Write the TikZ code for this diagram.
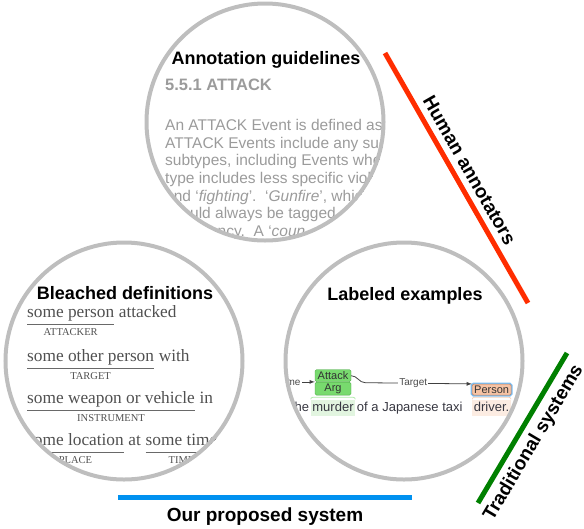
\documentclass[tikz,border=0pt]{standalone}
\usepackage{fontspec}
\setmainfont{Liberation Serif}
\setsansfont{Liberation Sans}
\usetikzlibrary{positioning}

\definecolor{lensgray}{RGB}{190,190,190}
\definecolor{guidegray}{RGB}{155,155,155}
\definecolor{defgray}{RGB}{80,80,80}
\definecolor{rulegray}{RGB}{105,105,105}
\definecolor{wordgray}{RGB}{55,55,65}
\definecolor{humanred}{RGB}{255,45,0}
\definecolor{tradgreen}{RGB}{0,128,0}
\definecolor{oursblue}{RGB}{0,145,240}
\definecolor{argfill}{RGB}{120,218,110}
\definecolor{argdraw}{RGB}{75,165,70}
\definecolor{arghl}{RGB}{226,245,224}
\definecolor{personfill}{RGB}{245,195,165}
\definecolor{persondraw}{RGB}{190,130,100}
\definecolor{personhl}{RGB}{252,236,226}
\definecolor{glowblue}{RGB}{120,190,245}

\tikzset{
        lens/.style={circle, draw=lensgray, line width=4pt, minimum size=237pt, inner sep=0pt},
        heading/.style={font=\sffamily\bfseries\fontsize{18}{20}\selectfont, inner sep=0pt, anchor=base},
        track/.style={line width=5pt},
        tracklabel/.style={font=\sffamily\bfseries\fontsize{19}{21}\selectfont, sloped, inner sep=0pt},
        guidetext/.style={font=\sffamily\fontsize{15.5}{17.7}\selectfont, text=guidegray, align=left, inner sep=0pt},
        phrase/.style={font=\fontsize{17.3}{20}\selectfont, text=defgray, inner sep=0pt, anchor=base west},
        slot/.style={phrase, text depth=4pt, inner ysep=3pt},
        rule/.style={draw=rulegray, line width=1.3pt},
        rolename/.style={font=\fontsize{10.5}{12}\selectfont, text=defgray, inner sep=0pt},
        word/.style={font=\sffamily\fontsize{13}{15}\selectfont, text=wordgray, inner xsep=1.5pt, inner ysep=2pt,
                text height=9.5pt, text depth=3pt},
        span/.style={draw, rounded corners=1.5pt, font=\sffamily\fontsize{11}{12}\selectfont, text=black!80,
                inner sep=0pt, minimum width=36pt},
        argspan/.style={span, fill=argfill, draw=argdraw},
        personspan/.style={span, fill=personfill, draw=persondraw, minimum width=39pt, minimum height=11pt,
                preaction={draw=glowblue, line width=3pt}},
        link/.style={-latex, draw=black!75, line width=0.8pt},
        arclabel/.style={font=\sffamily\fontsize{10}{11}\selectfont, text=black!70, fill=white, inner sep=1pt},
        brace/.style={line width=0.7pt, rounded corners=2pt},
}

\begin{document}
\begin{tikzpicture}[x=1pt, y=-1pt]
        \useasboundingbox (0,0) rectangle (584,528);
        %
        % annotation guidelines
        \begin{scope}
        \clip (265,122) circle [radius=120pt];
        \node[heading] (guide-title) at (266,64) {Annotation guidelines};
        \node[font=\sffamily\bfseries\fontsize{16.5}{18}\selectfont, text=guidegray, inner sep=0pt, anchor=base west]
                (guide-sec) at (165,90) {5.5.1 ATTACK};
        \node[guidetext, anchor=north west] (guide-body) at (165,119) {%
                An ATTACK Event is defined as\\
                ATTACK Events include any such\\
                subtypes, including Events where\\
                type includes less specific violence\\
                and `\textit{fighting}'.\ \ `\textit{Gunfire}', which\\
                should always be tagged\\
                emergency.\ \ A `\textit{coun}};
        \end{scope}
        %
        % bleached definitions
        \begin{scope}
        \clip (124,361) circle [radius=120pt];
        \node[heading] (bleach-title) at (125,299) {Bleached definitions};
        \node[slot] (attacker) at (27,317) {some person};
        \node[phrase] (attacked) at (attacker.base east) {\ attacked};
        \node[slot] (target) at (27,361) {some other person};
        \node[phrase] (with) at (target.base east) {\ with};
        \node[slot] (instrument) at (27,403) {some weapon or vehicle};
        \node[phrase] (in) at (instrument.base east) {\ in};
        \node[slot] (place) at (27,445) {some location};
        \node[phrase] (at) at (place.base east) {\ at\ \null};
        \node[slot] (time) at (at.base east) {some time};
        %
        \foreach \s in {attacker, target, instrument, place, time}
                \draw[rule] (\s.south west) -- (\s.south east);
        \node[rolename, below=4pt of attacker] (attacker-role) {ATTACKER};
        \node[rolename, below=4pt of target] (target-role) {TARGET};
        \node[rolename, below=4pt of instrument] (instrument-role) {INSTRUMENT};
        \node[rolename, below=4pt of place] (place-role) {PLACE};
        \node[rolename, below=4pt of time] (time-role) {TIME};
        \end{scope}
        %
        % labeled examples
        \begin{scope}
        \clip (404,361) circle [radius=120pt];
        \node[heading] (label-title) at (405,300) {Labeled examples};
        \node[word, fill=arghl, anchor=base] (murder) at (333,411) {murder};
        \node[word, anchor=base east] (the) at (murder.base west) {the};
        \node[word, anchor=base west] (taxi) at (murder.base east) {of a Japanese taxi};
        \node[word, fill=personhl, anchor=base west, xshift=8pt] (driver) at (taxi.base east) {driver.};
        \node[argspan, minimum height=13pt, above=4pt of murder] (arg) {Arg};
        \node[argspan, minimum height=12pt, above=0pt of arg] (attack) {Attack};
        \node[personspan, above=4pt of driver] (person) {Person};
        %
        \draw[brace, draw=argfill!60] (murder.north west) |- ([yshift=2pt]murder.north) -| (murder.north east);
        \draw[brace, draw=personfill!80] (driver.north west) |- ([yshift=2pt]driver.north) -| (driver.north east);
        \coordinate (time-from) at ([xshift=-60pt]arg.north west);
        \draw[link] (time-from) -- node[arclabel, pos=0.58] (time-arc) {Time} (arg.north west);
        \draw[link] (attack.east) to[out=0, in=180] ++(14,7) -- node[arclabel, pos=0.45] (target-arc) {Target} (person.north west);
        \end{scope}
        %
        \node[lens] (guide) at (265,122) {};
        \node[lens] (bleach) at (124,361) {};
        \node[lens] (label) at (404,361) {};
        %
        \coordinate (human-a) at (385,53);
        \coordinate (human-b) at (528,303);
        \coordinate (trad-a) at (478,503);
        \coordinate (trad-b) at (567,353);
        \coordinate (ours-a) at (118,497);
        \coordinate (ours-b) at (412,497);
        \draw[track, draw=humanred] (human-a) -- node[tracklabel, above=6pt] (human) {Human annotators} (human-b);
        \draw[track, draw=tradgreen] (trad-a) -- node[tracklabel, below=6pt, pos=0.46] (trad) {Traditional systems} (trad-b);
        \draw[track, draw=oursblue] (ours-a) -- node[tracklabel, below=8pt] (ours) {Our proposed system} (ours-b);
\end{tikzpicture}
\end{document}
